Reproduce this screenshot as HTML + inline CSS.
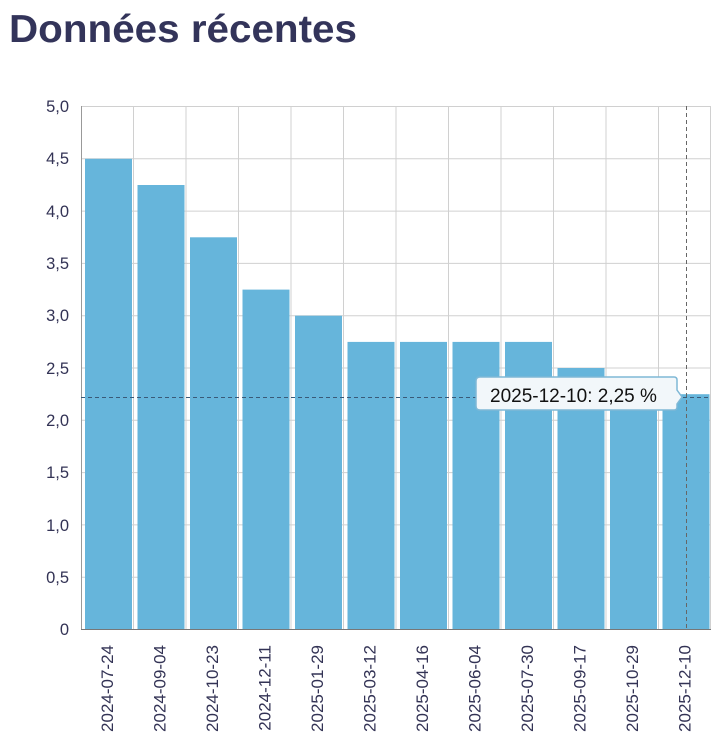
<!DOCTYPE html>
<html><head><meta charset="utf-8"><style>
html,body{margin:0;padding:0;background:#fff;}
svg{display:block;font-family:"Liberation Sans",Arial,sans-serif;}
</style></head><body>
<svg width="717" height="745" viewBox="0 0 717 745" xmlns="http://www.w3.org/2000/svg">
<text x="9" y="42" font-size="39" font-weight="bold" fill="#33345a" textLength="348" lengthAdjust="spacingAndGlyphs">Données récentes</text>
<g stroke="#d0d0d0" stroke-width="1">
<line x1="81" y1="106.5" x2="711" y2="106.5"/><line x1="81" y1="158.8" x2="711" y2="158.8"/><line x1="81" y1="211.1" x2="711" y2="211.1"/><line x1="81" y1="263.4" x2="711" y2="263.4"/><line x1="81" y1="315.7" x2="711" y2="315.7"/><line x1="81" y1="368" x2="711" y2="368"/><line x1="81" y1="420.3" x2="711" y2="420.3"/><line x1="81" y1="472.6" x2="711" y2="472.6"/><line x1="81" y1="524.9" x2="711" y2="524.9"/><line x1="81" y1="577.2" x2="711" y2="577.2"/>
<line x1="133.5" y1="106" x2="133.5" y2="629"/><line x1="186" y1="106" x2="186" y2="629"/><line x1="238.5" y1="106" x2="238.5" y2="629"/><line x1="291" y1="106" x2="291" y2="629"/><line x1="343.5" y1="106" x2="343.5" y2="629"/><line x1="396" y1="106" x2="396" y2="629"/><line x1="448.5" y1="106" x2="448.5" y2="629"/><line x1="501" y1="106" x2="501" y2="629"/><line x1="553.5" y1="106" x2="553.5" y2="629"/><line x1="606" y1="106" x2="606" y2="629"/><line x1="658.5" y1="106" x2="658.5" y2="629"/><line x1="710.5" y1="106" x2="710.5" y2="629"/>
</g>
<g fill="#66b5db">
<rect x="85" y="158.8" width="47" height="470.2"/>
<rect x="137.5" y="185" width="47" height="444"/>
<rect x="190" y="237.3" width="47" height="391.7"/>
<rect x="242.5" y="289.6" width="47" height="339.4"/>
<rect x="295" y="315.7" width="47" height="313.3"/>
<rect x="347.5" y="341.9" width="47" height="287.1"/>
<rect x="400" y="341.9" width="47" height="287.1"/>
<rect x="452.5" y="341.9" width="47" height="287.1"/>
<rect x="505" y="341.9" width="47" height="287.1"/>
<rect x="557.5" y="368" width="47" height="261"/>
<rect x="610" y="394.2" width="47" height="234.8"/>
<rect x="662.5" y="394.2" width="47" height="234.8"/>
</g>
<line x1="81.5" y1="106" x2="81.5" y2="629" stroke="#999" stroke-width="1"/>
<line x1="81" y1="629.5" x2="711" y2="629.5" stroke="#777" stroke-width="1"/>
<line x1="81" y1="397.5" x2="711" y2="397.5" stroke="#3a5a78" stroke-width="1" stroke-dasharray="4,3"/>
<line x1="686.5" y1="106" x2="686.5" y2="629" stroke="#666" stroke-width="1" stroke-dasharray="4,3"/>
<g font-size="16.5" fill="#333355" text-anchor="end">
<text x="69" y="112">5,0</text><text x="69" y="164">4,5</text><text x="69" y="217">4,0</text><text x="69" y="269">3,5</text><text x="69" y="321">3,0</text><text x="69" y="374">2,5</text><text x="69" y="426">2,0</text><text x="69" y="478">1,5</text><text x="69" y="531">1,0</text><text x="69" y="583">0,5</text><text x="69" y="635">0</text>
</g>
<g font-size="17" fill="#333355" text-anchor="end">
<text transform="translate(113,645) rotate(-90)">2024-07-24</text>
<text transform="translate(165.5,645) rotate(-90)">2024-09-04</text>
<text transform="translate(218,645) rotate(-90)">2024-10-23</text>
<text transform="translate(270.5,645) rotate(-90)">2024-12-11</text>
<text transform="translate(323,645) rotate(-90)">2025-01-29</text>
<text transform="translate(375.5,645) rotate(-90)">2025-03-12</text>
<text transform="translate(428,645) rotate(-90)">2025-04-16</text>
<text transform="translate(480.5,645) rotate(-90)">2025-06-04</text>
<text transform="translate(533,645) rotate(-90)">2025-07-30</text>
<text transform="translate(585.5,645) rotate(-90)">2025-09-17</text>
<text transform="translate(638,645) rotate(-90)">2025-10-29</text>
<text transform="translate(690.5,645) rotate(-90)">2025-12-10</text>
</g>
<path d="M480,377 H674 Q677,377 677,380 V390 L682,397 L677,404 V407 Q677,410 674,410 H480 Q476,410 476,406 V381 Q476,377 480,377 Z" fill="#f2f7fa" stroke="#7fb8d6" stroke-width="1.5"/>
<text x="490" y="402" font-size="19" fill="#111">2025-12-10: 2,25 %</text>
</svg>
</body></html>
